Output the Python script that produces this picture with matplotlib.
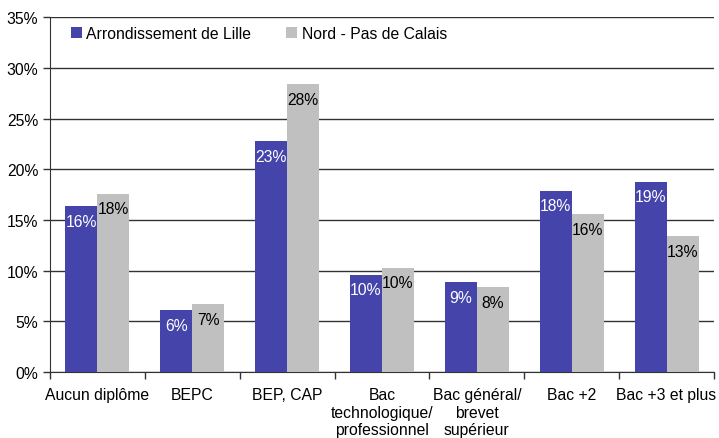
import numpy as np
import matplotlib.pyplot as plt
from matplotlib.ticker import FuncFormatter, FixedLocator

plt.rcParams['font.family'] = ['Liberation Sans', 'DejaVu Sans']

categories = ['Aucun diplôme', 'BEPC', 'BEP, CAP', 'Bac\ntechnologique/\nprofessionnel',
              'Bac général/\nbrevet\nsupérieur', 'Bac +2', 'Bac +3 et plus']
lille = [16.4, 6.1, 22.8, 9.6, 8.9, 17.9, 18.8]
nord = [17.6, 6.7, 28.4, 10.3, 8.4, 15.6, 13.4]
series_names = ['Arrondissement de Lille', 'Nord - Pas de Calais']

fig = plt.figure(figsize=(7.19, 4.39), dpi=100)
ax = fig.add_axes([0.0695, 0.150, 0.9235, 0.808])

x = np.arange(len(categories))
w = 0.337
b1 = ax.bar(x - w/2, lille, w, color='#4444AA', label=series_names[0], zorder=3)
b2 = ax.bar(x + w/2, nord, w, color='#C0C0C0', label=series_names[1], zorder=3)

fs = 11.3
# etiquettes dans le haut des barres
for rect, v in zip(b1, lille):
    ax.text(rect.get_x() + rect.get_width()/2, v - 0.75, f"{v:.0f}%", ha='center', va='top',
            color='white', fontsize=fs, zorder=4)
for rect, v in zip(b2, nord):
    ax.text(rect.get_x() + rect.get_width()/2, v - 0.75, f"{v:.0f}%", ha='center', va='top',
            color='black', fontsize=fs, zorder=4)

ax.set_xlim(-0.5, len(categories) - 0.5)
ax.set_ylim(0, 35)
ax.set_yticks(np.arange(0, 36, 5))
ax.yaxis.set_major_formatter(FuncFormatter(lambda v, p: f"{v:.0f}%"))
ax.yaxis.grid(True, color='#333333', linewidth=1, zorder=0)
ax.set_axisbelow(True)

ax.set_xticks(x)
ax.set_xticklabels(categories, fontsize=fs, linespacing=1.2)
ax.tick_params(axis='x', which='major', length=0, pad=11)
ax.xaxis.set_minor_locator(FixedLocator(np.arange(-0.5, len(categories), 1)))
ax.tick_params(axis='x', which='minor', length=5, width=1, color='#333333')
ax.tick_params(axis='y', length=5, width=1, color='#333333', labelsize=fs)

for s in ['top', 'right']:
    ax.spines[s].set_visible(False)
ax.spines['left'].set_color('#333333')
ax.spines['bottom'].set_color('#333333')

ax.legend(loc='upper left', ncol=2, frameon=False, fontsize=fs, handlelength=0.7,
          handleheight=0.7, handletextpad=0.3, columnspacing=2.2, bbox_to_anchor=(0.01, 1.015))

fig.savefig('out.png', dpi=100)
